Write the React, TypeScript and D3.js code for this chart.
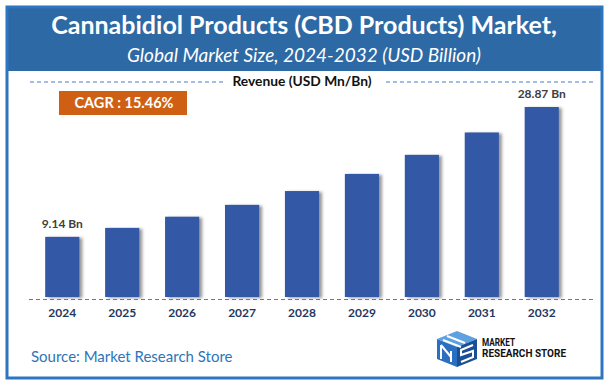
import React, { useEffect, useRef } from "react";
import * as d3 from "d3";

const years = ["2024", "2025", "2026", "2027", "2028", "2029", "2030", "2031", "2032"];
const revenue = [9.14, 10.5, 12.2, 14.0, 16.1, 18.7, 21.6, 25.0, 28.87];
const barLabels = ["9.14 Bn", "", "", "", "", "", "", "", "28.87 Bn"];

const W = 609;
const H = 389;
const FONT = "Lato, 'Open Sans', sans-serif";

function drawChart(node: SVGSVGElement) {
  const svg = d3.select(node);
  svg.selectAll("*").remove();

  const defs = svg.append("defs");
  const f = defs.append("filter").attr("id", "barShadow").attr("x", "-20%").attr("y", "-10%").attr("width", "150%").attr("height", "130%");
  f.append("feDropShadow")
    .attr("dx", 3).attr("dy", 1).attr("stdDeviation", 1.6)
    .attr("flood-color", "#555").attr("flood-opacity", 0.6);

  // frame + header
  svg.append("rect").attr("width", W).attr("height", H).attr("fill", "#fff");
  svg.append("rect").attr("x", 7).attr("y", 7).attr("width", 595).attr("height", 64).attr("fill", "#2d69a5");
  svg.append("rect").attr("x", 7).attr("y", 7).attr("width", 595).attr("height", 371)
    .attr("fill", "none").attr("stroke", "#2e75c0").attr("stroke-width", 3);

  svg.append("text").attr("x", 304).attr("y", 34).attr("text-anchor", "middle")
    .attr("font-family", FONT).attr("font-weight", 700).attr("font-size", 25).attr("fill", "#fff")
    .text("Cannabidiol Products (CBD Products) Market,");
  svg.append("text").attr("x", 304).attr("y", 62).attr("text-anchor", "middle")
    .attr("font-family", FONT).attr("font-style", "italic").attr("font-size", 19).attr("fill", "#fff")
    .text("Global Market Size, 2024-2032 (USD Billion)");

  // revenue heading with dashed lines
  const dash = (x1: number, x2: number, y: number) =>
    svg.append("line").attr("x1", x1).attr("x2", x2).attr("y1", y).attr("y2", y)
      .attr("stroke", "#4a7fc8").attr("stroke-width", 1.2).attr("stroke-dasharray", "4,3");
  dash(30, 224, 82);
  dash(386, 594, 82);
  svg.append("text").attr("x", 302).attr("y", 86).attr("text-anchor", "middle")
    .attr("font-family", FONT).attr("font-weight", 700).attr("font-size", 13.8).attr("fill", "#111")
    .text("Revenue (USD Mn/Bn)");

  // CAGR box
  svg.append("rect").attr("x", 59).attr("y", 91).attr("width", 128).attr("height", 24).attr("fill", "#cf5f12");
  svg.append("text").attr("x", 124).attr("y", 108).attr("text-anchor", "middle")
    .attr("font-family", FONT).attr("font-weight", 700).attr("font-size", 14.5).attr("fill", "#fff")
    .text("CAGR : 15.46%");

  // scales
  const x = d3.scaleBand().domain(years).range([32, 572]).paddingInner(0.43).paddingOuter(0.22);
  const y = d3.scaleLinear().domain([0, d3.max(revenue)!]).range([297, 107]);

  const g = svg.append("g");
  g.selectAll("rect.bar").data(years).enter().append("rect")
    .attr("class", "bar")
    .attr("x", d => x(d)!)
    .attr("y", (d, i) => y(revenue[i]))
    .attr("width", x.bandwidth())
    .attr("height", (d, i) => y(0) - y(revenue[i]))
    .attr("fill", "#3258a6")
    .attr("filter", "url(#barShadow)");

  g.selectAll("text.val").data(years).enter().append("text")
    .attr("class", "val")
    .attr("x", d => x(d)! + x.bandwidth() / 2)
    .attr("y", (d, i) => y(revenue[i]) - 9)
    .attr("text-anchor", "middle")
    .attr("font-family", FONT).attr("font-weight", 700).attr("font-size", 12).attr("fill", "#404040")
    .text((d, i) => barLabels[i]);

  dash(29, 594, 299.5);

  g.selectAll("text.year").data(years).enter().append("text")
    .attr("class", "year")
    .attr("x", d => x(d)! + x.bandwidth() / 2)
    .attr("y", 317)
    .attr("text-anchor", "middle")
    .attr("font-family", FONT).attr("font-weight", 700).attr("font-size", 12).attr("fill", "#1f3864")
    .text(d => d);

  // footer
  svg.append("text").attr("x", 31).attr("y", 362)
    .attr("font-family", FONT).attr("font-size", 15).attr("fill", "#2e75b6")
    .text("Source: Market Research Store");

  // logo
  const logo = svg.append("g").attr("transform", "translate(437,331)");
  logo.append("path").attr("d", "M0,8 L20,0 L40,8 L20,16 Z").attr("fill", "#5ea1e0");
  logo.append("path").attr("d", "M0,8 L20,16 L20,36 L0,28 Z").attr("fill", "#2a6fc0");
  logo.append("path").attr("d", "M20,16 L40,8 L40,28 L20,36 Z").attr("fill", "#1b4f95");
  logo.append("path").attr("d", "M10,5 L28,12 M6,9 L24,16").attr("stroke", "#fff").attr("stroke-width", 2).attr("fill", "none");
  logo.append("path").attr("d", "M4,14 L4,28 M4,14 L14,26 M14,20 L14,31").attr("stroke", "#fff").attr("stroke-width", 2).attr("fill", "none");
  logo.append("path").attr("d", "M36,14 L24,19 L24,24 L36,20 L36,26 L24,31").attr("stroke", "#fff").attr("stroke-width", 2).attr("fill", "none");
  svg.append("text").attr("x", 482).attr("y", 346)
    .attr("font-family", "'Roboto', sans-serif").attr("font-weight", 700).attr("font-size", 10).attr("fill", "#111")
    .attr("textLength", 33).attr("lengthAdjust", "spacingAndGlyphs")
    .text("MARKET");
  svg.append("text").attr("x", 482).attr("y", 357)
    .attr("font-family", "'Roboto', sans-serif").attr("font-weight", 700).attr("font-size", 10).attr("fill", "#111")
    .attr("textLength", 84).attr("lengthAdjust", "spacingAndGlyphs")
    .text("RESEARCH STORE");
}

export default function App() {
  const ref = useRef<SVGSVGElement>(null);
  useEffect(() => {
    if (ref.current) drawChart(ref.current);
  }, []);
  return (
    <svg ref={ref} width={W} height={H} style={{ position: "absolute", left: 0, top: 0, display: "block" }} />
  );
}
